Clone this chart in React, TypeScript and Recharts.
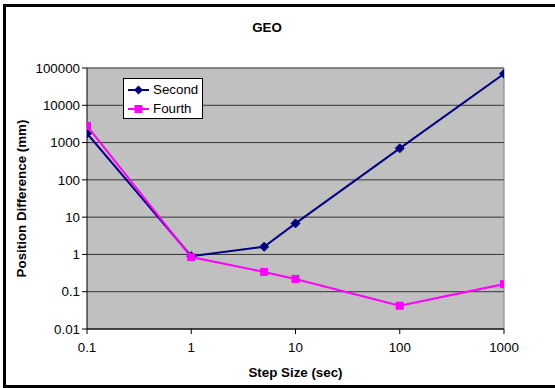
import React from "react";
import {
  CartesianGrid,
  Line,
  LineChart,
  ReferenceLine,
  XAxis,
  YAxis,
} from "recharts";

// step sizes in seconds and the position differences (mm) of each integrator
const stepSizes = [0.1, 1, 5, 10, 100, 1000];
const secondOrder = [1750, 0.9, 1.6, 6.8, 700, 70000];
const fourthOrder = [2800, 0.85, 0.34, 0.22, 0.042, 0.16];

const xTicks = [0.1, 1, 10, 100, 1000];
const yTicks = [0.01, 0.1, 1, 10, 100, 1000, 10000, 100000];

const NAVY = "#000080";
const MAGENTA = "#FF00FF";
const FONT = "'Liberation Sans', Arial, sans-serif";

const data = stepSizes.map((step, i) => ({
  step,
  second: secondOrder[i],
  fourth: fourthOrder[i],
}));

const tickStyle = { fill: "#000", fontSize: 13.33, fontFamily: FONT };

function Diamond(props: any) {
  const { cx, cy } = props;
  if (cx == null || cy == null) return null;
  const r = 4.5;
  return (
    <polygon
      points={`${cx},${cy - r} ${cx + r},${cy} ${cx},${cy + r} ${cx - r},${cy}`}
      fill={NAVY}
      stroke={NAVY}
    />
  );
}

function Square(props: any) {
  const { cx, cy } = props;
  if (cx == null || cy == null) return null;
  const s = 8;
  return <rect x={cx - s / 2} y={cy - s / 2} width={s} height={s} fill={MAGENTA} />;
}

function LegendRow({ color, marker, label }: { color: string; marker: "d" | "s"; label: string }) {
  return (
    <div style={{ display: "flex", alignItems: "center", height: 19 }}>
      <svg width={24} height={12} style={{ marginRight: 3 }}>
        <line x1={2} y1={6} x2={23} y2={6} stroke={color} strokeWidth={2} />
        {marker === "d" ? (
          <polygon points="12.5,1.5 17,6 12.5,10.5 8,6" fill={color} />
        ) : (
          <rect x={8.5} y={2} width={8} height={8} fill={color} />
        )}
      </svg>
      <span>{label}</span>
    </div>
  );
}

export default function App() {
  return (
    <div
      style={{
        position: "absolute",
        left: 0,
        top: 0,
        width: 555,
        height: 388,
        overflow: "hidden",
        background: "#fff",
        fontFamily: FONT,
      }}
    >
      <LineChart
        width={555}
        height={388}
        data={data}
        margin={{ top: 68, right: 51, left: 22, bottom: 11 }}
      >
        <CartesianGrid
          vertical={false}
          fill="#C0C0C0"
          fillOpacity={1}
          stroke="#333"
          strokeWidth={1}
        />
        <XAxis
          dataKey="step"
          type="number"
          scale="log"
          domain={[0.1, 1000]}
          ticks={xTicks}
          allowDataOverflow
          height={48}
          tickSize={5}
          tickMargin={9}
          tick={tickStyle}
          axisLine={{ stroke: "#000", strokeWidth: 1 }}
          tickLine={{ stroke: "#000" }}
          label={{
            value: "Step Size (sec)",
            position: "insideBottom",
            offset: 0,
            style: { fill: "#000", fontSize: 13.33, fontWeight: 700, fontFamily: FONT },
          }}
        />
        <YAxis
          type="number"
          scale="log"
          domain={[0.01, 100000]}
          ticks={yTicks}
          allowDataOverflow
          width={65}
          tickSize={5}
          tickMargin={2}
          tick={tickStyle}
          axisLine={{ stroke: "#000", strokeWidth: 1 }}
          tickLine={{ stroke: "#000" }}
          label={{
            value: "Position Difference (mm)",
            angle: -90,
            position: "insideLeft",
            offset: -1,
            style: {
              textAnchor: "middle",
              fill: "#000",
              fontSize: 13.33,
              fontWeight: 700,
              fontFamily: FONT,
            },
          }}
        />
        {/* plot area frame on the top and right edges */}
        <ReferenceLine y={100000} stroke="#808080" strokeWidth={1} />
        <ReferenceLine x={1000} stroke="#808080" strokeWidth={1} />
        <Line
          type="linear"
          dataKey="second"
          stroke={NAVY}
          strokeWidth={2}
          dot={<Diamond />}
          activeDot={false}
          isAnimationActive={false}
        />
        <Line
          type="linear"
          dataKey="fourth"
          stroke={MAGENTA}
          strokeWidth={2}
          dot={<Square />}
          activeDot={false}
          isAnimationActive={false}
        />
      </LineChart>

      <div
        style={{
          position: "absolute",
          left: 252,
          width: 30,
          top: 20,
          fontSize: 13.33,
          fontWeight: 700,
          whiteSpace: "nowrap",
          display: "flex",
          justifyContent: "center",
        }}
      >
        GEO
      </div>

      <div
        style={{
          position: "absolute",
          left: 123,
          top: 78,
          width: 80,
          height: 41,
          boxSizing: "border-box",
          border: "1px solid #000",
          background: "#fff",
          fontSize: 13.33,
          padding: "1px 0 0 2px",
        }}
      >
        <LegendRow color={NAVY} marker="d" label="Second" />
        <LegendRow color={MAGENTA} marker="s" label="Fourth" />
      </div>

      {/* outer chart border; its right side runs past the visible edge */}
      <div
        style={{
          position: "absolute",
          left: 3,
          top: 4,
          width: 560,
          height: 384,
          boxSizing: "border-box",
          border: "3px solid #000",
          pointerEvents: "none",
        }}
      />
    </div>
  );
}
